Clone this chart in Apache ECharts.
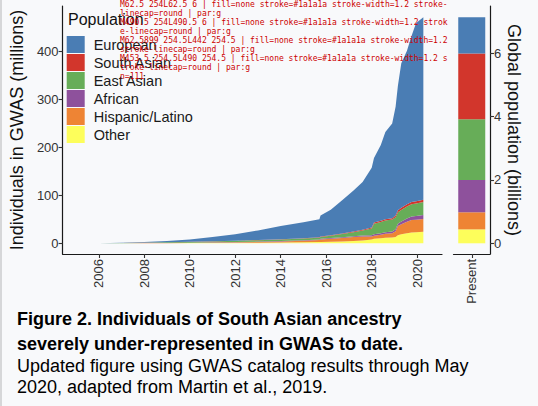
<!DOCTYPE html>
<html>
<head>
<meta charset="utf-8">
<script src="https://cdn.jsdelivr.net/npm/echarts@6/dist/echarts.min.js"></script>
<style>
html,body{margin:0;padding:0;background:#f8f9fb;}
#edge{position:absolute;left:0;top:0;width:2px;height:406px;background:#d6d7d9;}
#chart{width:538px;height:406px;}
#dbg{position:absolute;left:120px;top:0;width:330px;font:8px monospace;color:#c00;white-space:pre-wrap;word-break:break-all;pointer-events:none;}
</style>
</head>
<body>
<div id="chart"></div>
<div id="edge"></div>
<div id="dbg"></div>
<script>
var years = [2005.15, 2006, 2007, 2008, 2009, 2010, 2011, 2012, 2013, 2014, 2015, 2015.7, 2015.75,
  2016.2, 2016.7, 2017.2, 2017.6, 2018.0, 2018.1, 2018.4, 2018.6, 2018.9, 2019.05, 2019.15,
  2019.3, 2019.55, 2019.75, 2019.95, 2020.27];
var other = [0.05,0.1,0.2,0.3,0.4,0.6,0.8,1,1.2,1.5,2,2.5,3,3.5,4,5,6,8,9.5,10.5,11.5,12,13,17,19,21,22.5,23,24];
var hispanic = [0,0.02,0.1,0.2,0.3,0.5,0.8,1.2,1.8,2.5,3.5,4.5,5,6,7,8,8,6,6.5,7.5,8.5,9,12,19,21,24,26,26,27];
var african = [0,0.01,0.05,0.1,0.2,0.3,0.4,0.5,0.6,0.8,1,1.2,1.3,1.5,1.8,2,2.5,3,3,3.2,3.3,3.5,4.5,5,5.5,7,7.5,8,8];
var eastAsian = [0.02,0.1,0.4,0.8,1.2,1.6,2,2.5,2.8,3,3.3,3.5,3.8,5,6.5,8,10,14,22,23.5,24.5,25,25,24,24,25,25.5,26,27];
var southAsian = [0,0.01,0.05,0.1,0.15,0.2,0.3,0.4,0.5,0.6,0.7,0.8,0.9,1,1.2,1.5,1.7,2,2.2,2.4,2.6,3,3.5,4.2,4.5,4.5,4.5,5,5];
var european = [0.03,0.06,0.3,1.0,2.8,4.8,8.7,13.4,20,27.6,33.5,37.5,44,53,69.5,85.5,100,125,135,158,182,197.5,227,259,302,320.5,347,372,381];

var presentCategories = ['Present'];
var popOther = [0.44];
var popHispanic = [0.54];
var popAfrican = [1.02];
var popEastAsian = [1.92];
var popSouthAsian = [2.08];
var popEuropean = [1.14];

var xTicks = [2006, 2008, 2010, 2012, 2014, 2016, 2018, 2020];
var yTicksLeft = [0, 100, 200, 300, 400];
var yTicksRight = [0, 2, 4, 6];

var populations = ['Other', 'Hispanic/Latino', 'African', 'East Asian', 'South Asian', 'European'];
var legendOrder = ['European', 'South Asian', 'East Asian', 'African', 'Hispanic/Latino', 'Other'];
var colors = {
  'European': '#4a7db4', 'South Asian': '#d2362c', 'East Asian': '#67ad58',
  'African': '#8e519c', 'Hispanic/Latino': '#ee8434', 'Other': '#fdfe5b'
};
var seriesValues = {
  'Other': other, 'Hispanic/Latino': hispanic, 'African': african,
  'East Asian': eastAsian, 'South Asian': southAsian, 'European': european
};
var popValues = {
  'Other': popOther, 'Hispanic/Latino': popHispanic, 'African': popAfrican,
  'East Asian': popEastAsian, 'South Asian': popSouthAsian, 'European': popEuropean
};

var FONT = '"Liberation Sans", Arial, Helvetica, sans-serif';
var X_MIN = 2004.41, X_MAX = 2021.09, Y_MIN = -22.3, Y_MAX = 495.4;
var P_MIN = -0.338, P_MAX = 7.497;

var series = [];
populations.forEach(function (p) {
  series.push({
    name: p, type: 'line', stack: 'gwas', xAxisIndex: 0, yAxisIndex: 0,
    showSymbol: false, symbol: 'none', silent: true,
    encode: { x: 1, y: 0 },
    lineStyle: { width: 0, color: colors[p] },
    itemStyle: { color: colors[p] },
    areaStyle: { color: colors[p], opacity: 1 },
    data: years.map(function (t, i) { return [seriesValues[p][i], t]; })
  });
});
populations.forEach(function (p) {
  series.push({
    name: p, type: 'bar', stack: 'pop', xAxisIndex: 1, yAxisIndex: 1,
    barWidth: 27, silent: true,
    itemStyle: { color: colors[p] },
    data: popValues[p]
  });
});

function lineStyleA() { return { color: '#1a1a1a', width: 1.2 }; }
function tickStyleA() { return { color: '#333333', width: 1.1 }; }
function labelA(extra) {
  var o = { color: '#333333', fontSize: 13, fontFamily: FONT };
  for (var k in extra) o[k] = extra[k];
  return o;
}

var chart = echarts.init(document.getElementById('chart'), null, { renderer: 'svg' });
chart.setOption({
  backgroundColor: '#f8f9fb',
  animation: false,
  textStyle: { fontFamily: FONT },
  grid: [
    { left: 53, top: 6, width: 389, height: 248 },
    { left: 453.5, top: 6, width: 36.5, height: 248 }
  ],
  xAxis: [
    {
      type: 'value', gridIndex: 0, min: X_MIN, max: X_MAX,
      axisLine: { show: true, onZero: false, lineStyle: lineStyleA() },
      axisTick: { show: true, length: 4, lineStyle: tickStyleA(), customValues: xTicks },
      axisLabel: labelA({ rotate: 90, margin: 5, customValues: xTicks,
        formatter: function (v) { return String(v); } }),
      splitLine: { show: false }
    },
    {
      type: 'category', gridIndex: 1, data: presentCategories,
      axisLine: { show: true, onZero: false, lineStyle: lineStyleA() },
      axisTick: { show: true, length: 4, alignWithLabel: true, lineStyle: tickStyleA() },
      axisLabel: labelA({ rotate: 90, margin: 5 }),
      splitLine: { show: false }
    }
  ],
  yAxis: [
    {
      type: 'value', gridIndex: 0, min: Y_MIN, max: Y_MAX,
      name: 'Individuals in GWAS (millions)', nameLocation: 'middle', nameGap: 28,
      nameRotate: 90,
      nameTextStyle: { fontSize: 18, color: '#111111', fontFamily: FONT },
      axisLine: { show: true, onZero: false, lineStyle: lineStyleA() },
      axisTick: { show: true, length: 4, lineStyle: tickStyleA(), customValues: yTicksLeft },
      axisLabel: labelA({ margin: 4, customValues: yTicksLeft }),
      splitLine: { show: false }
    },
    {
      type: 'value', gridIndex: 1, position: 'right', min: P_MIN, max: P_MAX,
      name: 'Global population (billions)', nameLocation: 'middle', nameGap: 12,
      nameRotate: -90,
      nameTextStyle: { fontSize: 18, color: '#111111', fontFamily: FONT },
      axisLine: { show: true, onZero: false, lineStyle: lineStyleA() },
      axisTick: { show: true, length: 4, lineStyle: tickStyleA(), customValues: yTicksRight },
      axisLabel: labelA({ margin: 4, customValues: yTicksRight }),
      splitLine: { show: false }
    }
  ],
  legend: {
    data: legendOrder, orient: 'vertical', left: 66.7, top: 36, padding: 0,
    itemWidth: 18, itemHeight: 17, itemGap: 1, icon: 'rect', selectedMode: false,
    itemStyle: { borderWidth: 0 },
    textStyle: { fontSize: 14.5, color: '#1a1a1a', fontFamily: FONT, padding: [0, 0, 0, 4] }
  },
  graphic: [
    { id: 'legTitle', type: 'text', left: 68, top: 11, silent: true,
      style: { text: 'Population', font: '16px ' + FONT, fill: '#111' } },
    { id: 'cap1', type: 'text', left: 17, top: 310, silent: true,
      style: { text: 'Figure 2. Individuals of South Asian ancestry', font: 'bold 18px ' + FONT, fill: '#000' } },
    { id: 'cap2', type: 'text', left: 17, top: 335, silent: true,
      style: { text: 'severely under-represented in GWAS to date.', font: 'bold 18px ' + FONT, fill: '#000' } },
    { id: 'cap3', type: 'text', left: 17, top: 357, silent: true,
      style: { text: 'Updated figure using GWAS catalog results through May', font: '18px ' + FONT, fill: '#000' } },
    { id: 'cap4', type: 'text', left: 17, top: 378, silent: true,
      style: { text: '2020, adapted from Martin et al., 2019.', font: '18px ' + FONT, fill: '#000' } }
  ],
  series: series
});

var out = [];
document.querySelectorAll('#chart svg path, #chart svg line').forEach(function (p) {
  var s = p.getAttribute('stroke') || '';
  var d = p.getAttribute('d') || '';
  if (/1a1a1a|26,26,26/i.test(s) || /^M53|^M453/.test(d)) {
    var attrs = [];
    for (var i = 0; i < p.attributes.length; i++) {
      var a = p.attributes[i];
      if (a.name !== 'd') attrs.push(a.name + '=' + a.value);
    }
    var par = p.parentNode;
    out.push(d.slice(0, 34) + ' | ' + attrs.join(' ') + ' | par:' + par.tagName + (par.getAttribute('clip-path') ? ' clip' : ''));
  }
});
out.push('n=' + document.querySelectorAll('#chart svg *').length);
document.getElementById('dbg').textContent = out.join('\n');
</script>
</body>
</html>
